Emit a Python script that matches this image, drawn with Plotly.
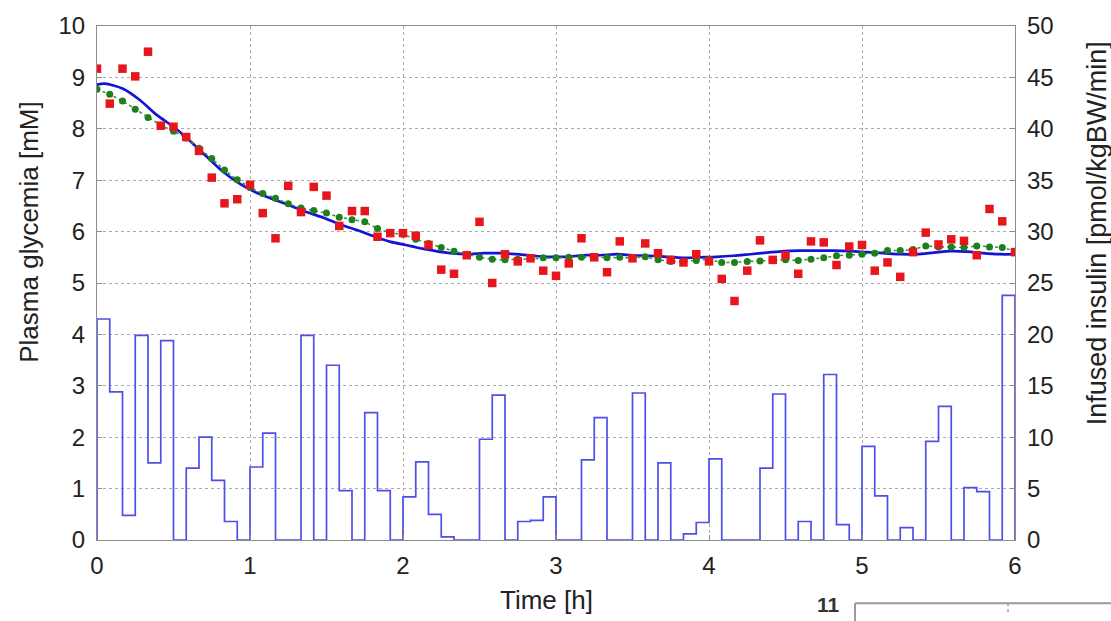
import numpy as np
import plotly.graph_objects as go

# ---- data -------------------------------------------------------------
# sampling grid: one sample every 5 minutes over 6 hours (hours)
sample_time_h = np.arange(0, 73) * 5 / 60.0

# measured plasma glycemia [mM]
glycemia_measured = [
    9.17, 8.49, 9.17, 9.02, 9.50, 8.06, 8.04, 7.84, 7.57, 7.05, 6.55, 6.63,
    6.91, 6.36, 5.87, 6.89, 6.38, 6.87, 6.70, 6.11, 6.40, 6.40, 5.90, 5.97,
    5.97, 5.92, 5.74, 5.26, 5.18, 5.54, 6.19, 5.00, 5.56, 5.42, 5.48, 5.24,
    5.14, 5.38, 5.87, 5.50, 5.21, 5.81, 5.48, 5.77, 5.58, 5.45, 5.40, 5.56,
    5.42, 5.08, 4.65, 5.24, 5.83, 5.45, 5.54, 5.18, 5.81, 5.79, 5.35, 5.71,
    5.74, 5.24, 5.40, 5.12, 5.60, 5.98, 5.75, 5.85, 5.82, 5.54, 6.44, 6.20,
    5.60,
]

# estimated glycemia [mM]
glycemia_estimated = [
    8.77, 8.67, 8.54, 8.38, 8.22, 8.07, 7.95, 7.82, 7.62, 7.42, 7.20, 7.01,
    6.86, 6.74, 6.65, 6.54, 6.46, 6.41, 6.36, 6.28, 6.23, 6.19, 6.06, 5.97,
    5.95, 5.85, 5.77, 5.69, 5.62, 5.56, 5.50, 5.46, 5.45, 5.46, 5.47, 5.49,
    5.49, 5.50, 5.50, 5.50, 5.49, 5.50, 5.49, 5.51, 5.45, 5.42, 5.42, 5.44,
    5.46, 5.40, 5.40, 5.42, 5.43, 5.44, 5.45, 5.44, 5.46, 5.49, 5.53, 5.54,
    5.56, 5.58, 5.63, 5.63, 5.65, 5.72, 5.70, 5.70, 5.69, 5.72, 5.70, 5.69,
    5.62,
]

# model prediction of glycemia [mM]
model_time_h = [
    0.00, 0.05, 0.17, 0.28, 0.39, 0.50, 0.61, 0.72, 0.83, 0.94, 1.04, 1.15,
    1.26, 1.37, 1.48, 1.59, 1.70, 1.81, 1.92, 2.02, 2.09, 2.20, 2.31, 2.42,
    2.53, 2.64, 2.74, 2.85, 2.96, 3.07, 3.18, 3.29, 3.40, 3.50, 3.61, 3.72,
    3.83, 3.94, 4.05, 4.16, 4.27, 4.38, 4.49, 4.59, 4.70, 4.81, 4.92, 5.03,
    5.14, 5.25, 5.36, 5.47, 5.58, 5.69, 5.79, 5.90, 6.00,
]
model_glycemia = [
    8.86, 8.88, 8.78, 8.56, 8.27, 8.04, 7.76, 7.45, 7.15, 6.92, 6.76, 6.63,
    6.51, 6.38, 6.27, 6.14, 6.03, 5.91, 5.80, 5.74, 5.69, 5.63, 5.58, 5.56,
    5.58, 5.58, 5.56, 5.53, 5.51, 5.51, 5.54, 5.54, 5.56, 5.54, 5.53, 5.51,
    5.49, 5.50, 5.51, 5.53, 5.56, 5.59, 5.62, 5.63, 5.63, 5.63, 5.62, 5.60,
    5.58, 5.56, 5.56, 5.59, 5.62, 5.61, 5.58, 5.56, 5.56,
]

# insulin infusion rate per 5-minute interval [pmol/kgBW/min]
insulin_rate = [
    21.5, 14.4, 2.4, 19.9, 7.5, 19.4, 0.0, 7.0, 10.0, 5.8, 1.8, 0.0,
    7.1, 10.4, 0.0, 0.0, 19.9, 0.0, 17.0, 4.8, 0.0, 12.4, 4.8, 0.0,
    4.2, 7.6, 2.5, 0.3, 0.0, 0.0, 9.8, 14.1, 0.0, 1.8, 1.9, 4.2,
    0.0, 0.0, 7.8, 11.9, 0.0, 0.0, 14.3, 0.0, 7.5, 0.0, 0.6, 1.7,
    7.9, 0.0, 0.0, 0.0, 7.0, 14.2, 0.0, 1.8, 0.0, 16.1, 1.5, 0.0,
    9.1, 4.3, 0.0, 1.2, 0.0, 9.6, 13.0, 0.0, 5.1, 4.7, 0.0, 23.8,
]

x_ticks = [0, 1, 2, 3, 4, 5, 6]
y_ticks = list(range(0, 11))
y2_ticks = list(range(0, 51, 5))

# ---- figure -----------------------------------------------------------
FONT = "Liberation Sans, Arial, sans-serif"
TXT = "#222222"
FRAME = "#8c8c8c"
GRID = "#acacac"

# staircase of the infusion: interval starts, closed at both ends to zero
n = len(insulin_rate)
step_x = [0.0] + [i * 5 / 60.0 for i in range(n)] + [n * 5 / 60.0, n * 5 / 60.0]
step_y = [0.0] + list(insulin_rate) + [insulin_rate[-1], 0.0]

fig = go.Figure()

fig.add_trace(go.Scatter(
    x=step_x, y=step_y, yaxis="y2", mode="lines",
    line=dict(color="rgb(78,78,232)", width=1.7, shape="hv"),
    hoverinfo="skip", showlegend=False,
))

fig.add_trace(go.Scatter(
    x=model_time_h, y=model_glycemia, mode="lines",
    line=dict(color="#1414d8", width=2.7, shape="spline", smoothing=0.8),
    showlegend=False,
))

fig.add_trace(go.Scatter(
    x=sample_time_h, y=glycemia_estimated, mode="lines+markers",
    line=dict(color="#2a9a2a", width=1.5, dash="dot"),
    marker=dict(symbol="circle", size=7, color="#1f7f1f"),
    showlegend=False,
))

fig.add_trace(go.Scatter(
    x=sample_time_h, y=glycemia_measured, mode="markers",
    marker=dict(symbol="square", size=8.5, color="#e8161c"),
    showlegend=False,
))

axis_common = dict(
    showline=True, linecolor=FRAME, linewidth=1.2,
    ticks="inside", ticklen=5, tickcolor=FRAME, tickwidth=1,
    tickfont=dict(family=FONT, size=24, color=TXT),
    zeroline=False,
)

fig.update_layout(
    width=1111, height=621,
    margin=dict(l=97, r=96, t=20, b=81),
    paper_bgcolor="white", plot_bgcolor="white",
    font=dict(family=FONT, color=TXT),
    xaxis=dict(
        range=[0, 6], tickvals=x_ticks, mirror=True,
        showgrid=True, gridcolor=GRID, griddash="dot", gridwidth=1,
        ticklabelstandoff=4, **axis_common,
    ),
    yaxis=dict(
        range=[0, 10], tickvals=y_ticks, mirror=True,
        showgrid=True, gridcolor=GRID, griddash="dot", gridwidth=1,
        ticklabelstandoff=6, **axis_common,
    ),
    yaxis2=dict(
        range=[0, 50], tickvals=y2_ticks, overlaying="y", side="right",
        showgrid=False, ticklabelstandoff=6, **axis_common,
    ),
)

# axis titles
fig.add_annotation(
    text="Plasma glycemia [mM]", xref="paper", yref="paper",
    x=-0.075, y=0.6, textangle=-90, showarrow=False,
    xanchor="center", yanchor="middle",
    font=dict(family=FONT, size=26, color=TXT),
)
fig.add_annotation(
    text="Infused insulin [pmol/kgBW/min]", xref="paper", yref="paper",
    x=1.089, y=0.596, textangle=-90, showarrow=False,
    xanchor="center", yanchor="middle",
    font=dict(family=FONT, size=27, color=TXT),
)
fig.add_annotation(
    text="Time [h]", xref="paper", yref="paper",
    x=0.49, y=-0.117, showarrow=False,
    xanchor="center", yanchor="middle",
    font=dict(family=FONT, size=26, color=TXT),
)

# beginning of the next panel below the plot
fig.add_annotation(
    text="<b>11</b>", xref="paper", yref="paper",
    x=0.797, y=-0.125, showarrow=False,
    xanchor="center", yanchor="middle",
    font=dict(family=FONT, size=21, color="#333333"),
)
fig.add_shape(type="line", xref="paper", yref="paper",
              x0=0.8257, x1=1.11, y0=-0.1231, y1=-0.1231,
              line=dict(color="#9a9a9a", width=2))
fig.add_shape(type="line", xref="paper", yref="paper",
              x0=0.8257, x1=0.8257, y0=-0.1231, y1=-0.16,
              line=dict(color="#9a9a9a", width=2))
fig.add_shape(type="line", xref="paper", yref="paper",
              x0=0.9924, x1=0.9924, y0=-0.1231, y1=-0.14,
              line=dict(color="#9a9a9a", width=1.5, dash="dot"))

fig.write_html("out.html")
